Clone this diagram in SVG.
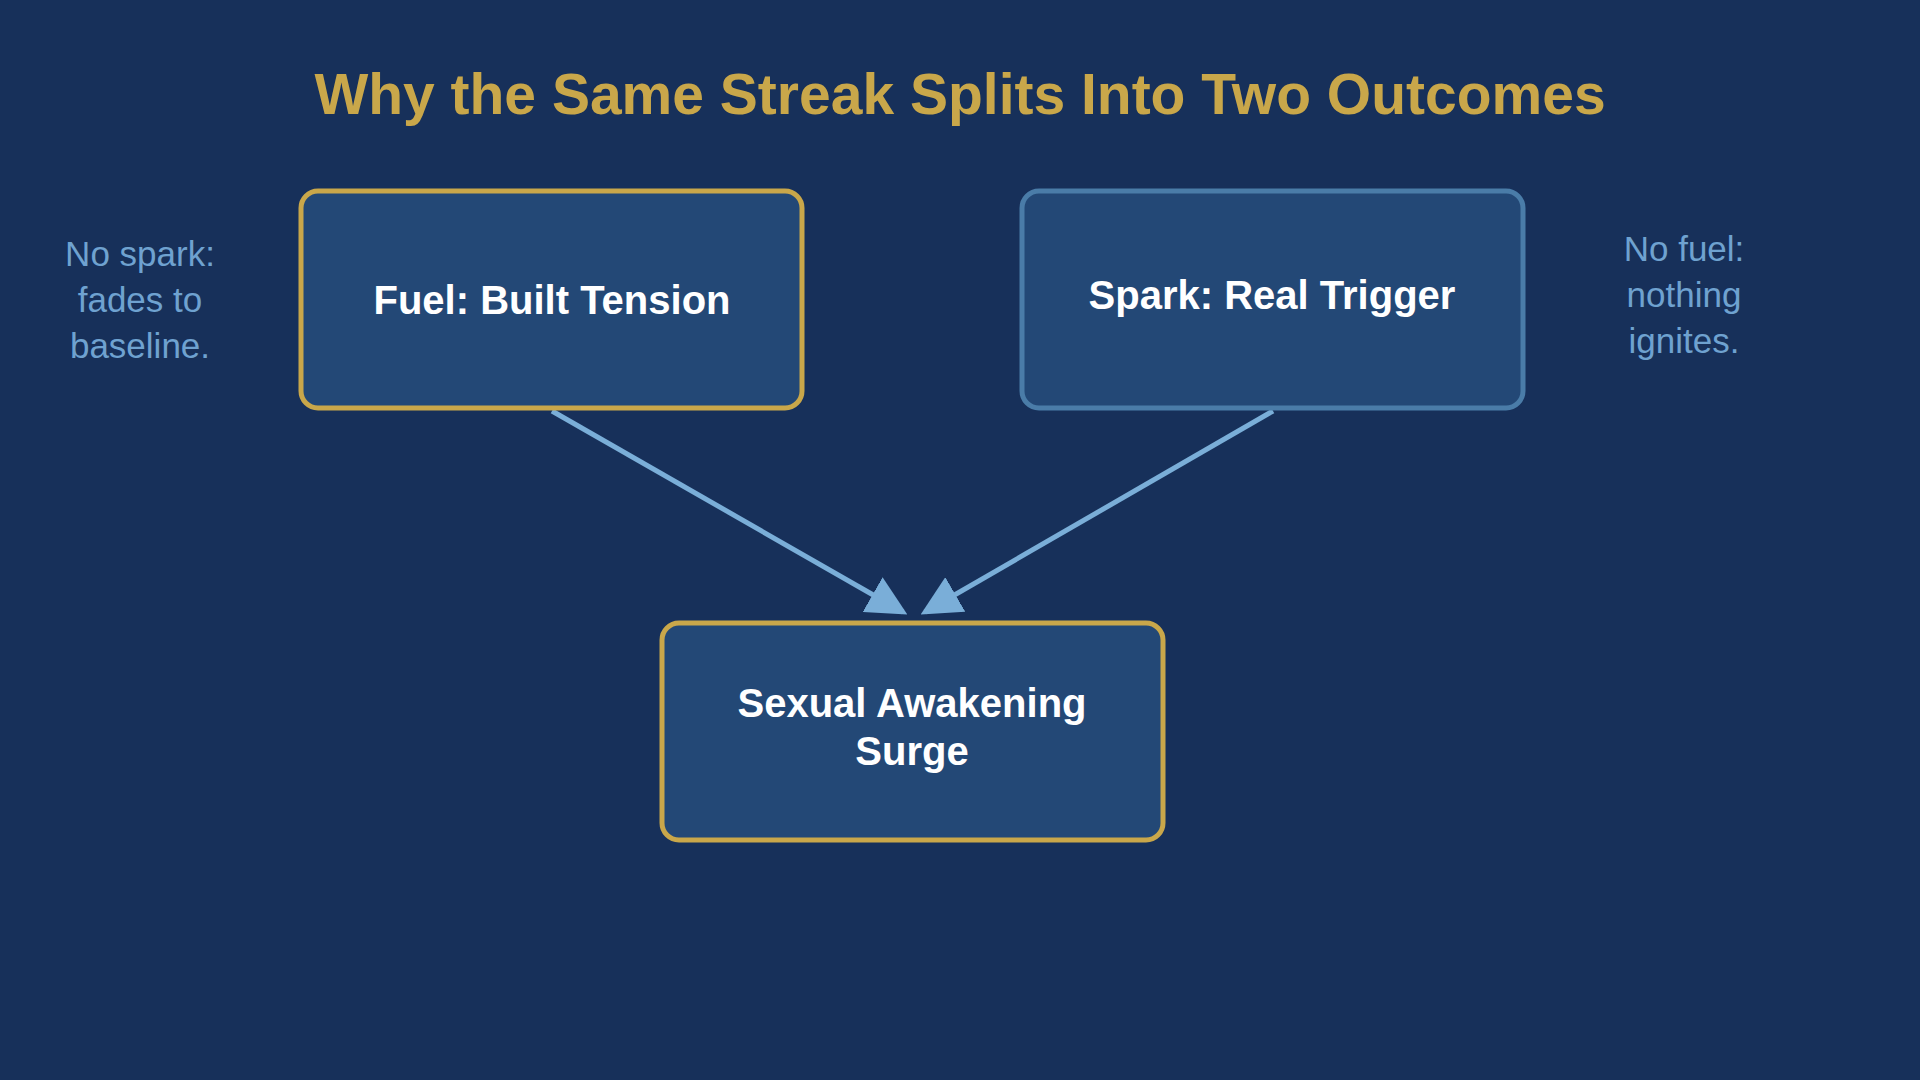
<svg xmlns="http://www.w3.org/2000/svg" width="1920" height="1080" viewBox="0 0 1920 1080">
<style>
.box{fill:#234876;stroke-width:5}
.lbl{font-family:"Liberation Sans",Arial,sans-serif;font-weight:bold;font-size:40px;fill:#ffffff;text-anchor:middle}
.side{font-family:"Liberation Sans",Arial,sans-serif;font-size:35px;fill:#6fa2d0;text-anchor:middle}
.conn{stroke:#7aaed8;stroke-width:5;fill:none;marker-end:url(#ah)}
</style>
<defs>
<marker id="ah" markerWidth="8" markerHeight="8" refX="7" refY="4" orient="auto" markerUnits="strokeWidth"><path d="M0,0 L8,4 L0,8 z" fill="#7aaed8"/></marker>
</defs>
<rect width="1920" height="1080" fill="#17305a"/>
<text x="960" y="114" font-family="Liberation Sans,Arial,sans-serif" font-weight="bold" font-size="57" fill="#c9a74a" text-anchor="middle">Why the Same Streak Splits Into Two Outcomes</text>
<g id="connectors">
<line class="conn" x1="552" y1="411" x2="903" y2="612"/>
<line class="conn" x1="1273" y1="411" x2="925" y2="612"/>
</g>
<g id="fuel"><rect class="box" x="301" y="191" width="501" height="217" rx="17" stroke="#c9a74a"/><text class="lbl" x="552" y="314">Fuel:  Built Tension</text></g>
<g id="spark"><rect class="box" x="1022" y="191" width="501" height="217" rx="17" stroke="#4a7ca8"/><text class="lbl" x="1272" y="309">Spark:  Real Trigger</text></g>
<g id="surge"><rect class="box" x="662" y="623" width="501" height="217" rx="17" stroke="#c9a74a"/><text class="lbl" x="912" y="717">Sexual Awakening</text><text class="lbl" x="912" y="765">Surge</text></g>
<g id="nospark"><text class="side" x="140" y="266">No spark:</text><text class="side" x="140" y="312">fades to</text><text class="side" x="140" y="358">baseline.</text></g>
<g id="nofuel"><text class="side" x="1684" y="261">No fuel:</text><text class="side" x="1684" y="307">nothing</text><text class="side" x="1684" y="353">ignites.</text></g>
</svg>
